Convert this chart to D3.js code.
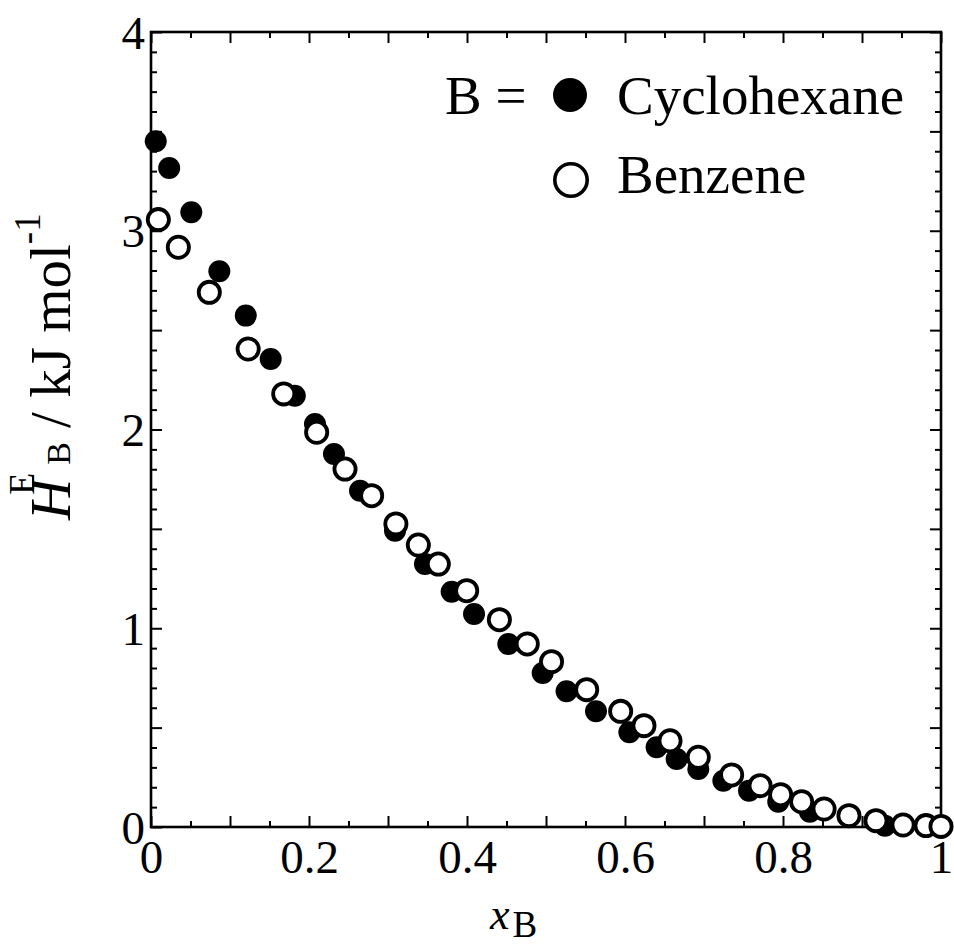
<!DOCTYPE html>
<html>
<head>
<meta charset="utf-8">
<script src="https://cdn.jsdelivr.net/npm/d3@7"></script>
<style>
  html, body { margin: 0; padding: 0; background: #fff; }
  svg { display: block; }
  text { font-family: "Liberation Serif", "Times New Roman", serif; fill: #000; }
</style>
</head>
<body>
<svg id="chart" width="954" height="949"></svg>
<script>
// Excess partial molar enthalpy of component B vs. its mole fraction
const cyclohexaneX = [0.006, 0.023, 0.051, 0.0865, 0.120, 0.1515, 0.182, 0.2076, 0.2316, 0.2646,
  0.3089, 0.3468, 0.3806, 0.4089, 0.4523, 0.4958, 0.526, 0.5633, 0.6055, 0.640,
  0.6654, 0.6928, 0.7245, 0.757, 0.794, 0.834, 0.929];
const cyclohexaneH = [3.45, 3.316, 3.093, 2.796, 2.573, 2.355, 2.170, 2.028, 1.877, 1.692,
  1.491, 1.323, 1.184, 1.072, 0.921, 0.775, 0.683, 0.582, 0.4765, 0.401,
  0.342, 0.292, 0.233, 0.183, 0.127, 0.077, 0.006];

const benzeneX = [0.0093, 0.0346, 0.0738, 0.123, 0.168, 0.2097, 0.2456, 0.2793, 0.310, 0.3384,
  0.3637, 0.3996, 0.441, 0.4763, 0.507, 0.5515, 0.5945, 0.624, 0.657, 0.6928,
  0.735, 0.771, 0.797, 0.8236, 0.852, 0.8835, 0.9177, 0.952, 0.981, 1.0];
const benzeneH = [3.056, 2.917, 2.690, 2.405, 2.179, 1.986, 1.801, 1.667, 1.525, 1.419,
  1.323, 1.189, 1.043, 0.921, 0.832, 0.691, 0.582, 0.510, 0.434, 0.351,
  0.262, 0.208, 0.1625, 0.127, 0.0906, 0.057, 0.032, 0.010, 0.007, 0.003];

const xTickValues = [0, 0.2, 0.4, 0.6, 0.8, 1];
const xTickLabels = ["0", "0.2", "0.4", "0.6", "0.8", "1"];
const yTickValues = [0, 1, 2, 3, 4];
const yTickLabels = ["0", "1", "2", "3", "4"];

const svg = d3.select("#chart");
const L = 151, R = 941, T = 32, B = 827;

const x = d3.scaleLinear().domain([0, 1]).range([L, R]);
const y = d3.scaleLinear().domain([0, 4]).range([B, T]);

const MAJ = 11, MIN = 6;
const xMid = d3.range(0, 11).map(i => i / 10);      // ticks every 0.1
const xMinor = d3.range(0, 10).map(i => i / 10 + 0.05);
const yMid = d3.range(0, 9).map(i => i / 2);        // ticks every 0.5
const yMinor = d3.range(0, 41).map(i => i / 10).filter(v => Math.abs(v * 2 - Math.round(v * 2)) > 1e-9);

function styleAxis(g) {
  g.select(".domain").remove();
  g.selectAll(".tick line").attr("stroke", "#000").attr("stroke-width", 2);
}

// inward ticks on all four sides
[[d3.axisBottom, B, xMid, MAJ], [d3.axisBottom, B, xMinor, MIN],
 [d3.axisTop, T, xMid, MAJ], [d3.axisTop, T, xMinor, MIN]].forEach(([ax, pos, vals, len]) => {
  svg.append("g").attr("transform", `translate(0,${pos})`)
    .call(ax(x).tickValues(vals).tickSize(-len).tickFormat(""))
    .call(styleAxis);
});
[[d3.axisLeft, L, yMid, MAJ], [d3.axisLeft, L, yMinor, MIN],
 [d3.axisRight, R, yMid, MAJ], [d3.axisRight, R, yMinor, MIN]].forEach(([ax, pos, vals, len]) => {
  svg.append("g").attr("transform", `translate(${pos},0)`)
    .call(ax(y).tickValues(vals).tickSize(-len).tickFormat(""))
    .call(styleAxis);
});

// tick labels
svg.append("g").attr("transform", `translate(0,${B})`)
  .call(d3.axisBottom(x).tickValues(xTickValues).tickSize(0)
    .tickFormat((d, i) => xTickLabels[i]))
  .call(g => {
    g.select(".domain").remove();
    g.selectAll("text").attr("y", 46).attr("dy", 0)
      .style("font-family", "Liberation Serif").style("font-size", "47px");
  });
svg.append("g").attr("transform", `translate(${L},0)`)
  .call(d3.axisLeft(y).tickValues(yTickValues).tickSize(0)
    .tickFormat((d, i) => yTickLabels[i]))
  .call(g => {
    g.select(".domain").remove();
    g.selectAll("text").attr("x", -6).attr("dy", 16)
      .style("font-family", "Liberation Serif").style("font-size", "47px");
  });

// frame
svg.append("rect").attr("x", L).attr("y", T).attr("width", R - L).attr("height", B - T)
  .attr("fill", "none").attr("stroke", "#000").attr("stroke-width", 2.6);

// data points: filled = cyclohexane, open = benzene (drawn on top)
svg.append("g").selectAll("circle")
  .data(d3.zip(cyclohexaneX, cyclohexaneH))
  .join("circle")
  .attr("cx", d => x(d[0])).attr("cy", d => y(d[1])).attr("r", 11)
  .attr("fill", "#000");

svg.append("g").selectAll("circle")
  .data(d3.zip(benzeneX, benzeneH))
  .join("circle")
  .attr("cx", d => x(d[0])).attr("cy", d => y(d[1])).attr("r", 10.6)
  .attr("fill", "#fff").attr("stroke", "#000").attr("stroke-width", 3.8);

// legend
svg.append("text").attr("x", 445).attr("y", 114).style("font-size", "55px").text("B =");
svg.append("circle").attr("cx", 570).attr("cy", 95).attr("r", 17).attr("fill", "#000");
svg.append("text").attr("x", 617).attr("y", 114).style("font-size", "55px").text("Cyclohexane");
svg.append("circle").attr("cx", 571).attr("cy", 180).attr("r", 16.2)
  .attr("fill", "#fff").attr("stroke", "#000").attr("stroke-width", 3.6);
svg.append("text").attr("x", 617).attr("y", 193).style("font-size", "55px").text("Benzene");

// x-axis title
const xt = svg.append("text").attr("x", 490).attr("y", 929).style("font-size", "44px");
xt.append("tspan").style("font-style", "italic").text("x");
xt.append("tspan").attr("dx", 3).attr("dy", 8).style("font-size", "37px").text("B");

// y-axis title (rotated)
const yt = svg.append("text")
  .attr("transform", "translate(70,520) rotate(-90)")
  .attr("x", 0).attr("y", 0).style("font-size", "57px");
yt.append("tspan").style("font-style", "italic").text("H");
yt.append("tspan").attr("dx", -16).attr("dy", -36).style("font-size", "36px").text("E");
yt.append("tspan").attr("dx", 8).attr("dy", 36).style("font-size", "34px").text("B");
yt.append("tspan").text(" / kJ mol");
yt.append("tspan").attr("dy", -30).style("font-size", "37px").text("-1");
</script>
</body>
</html>
